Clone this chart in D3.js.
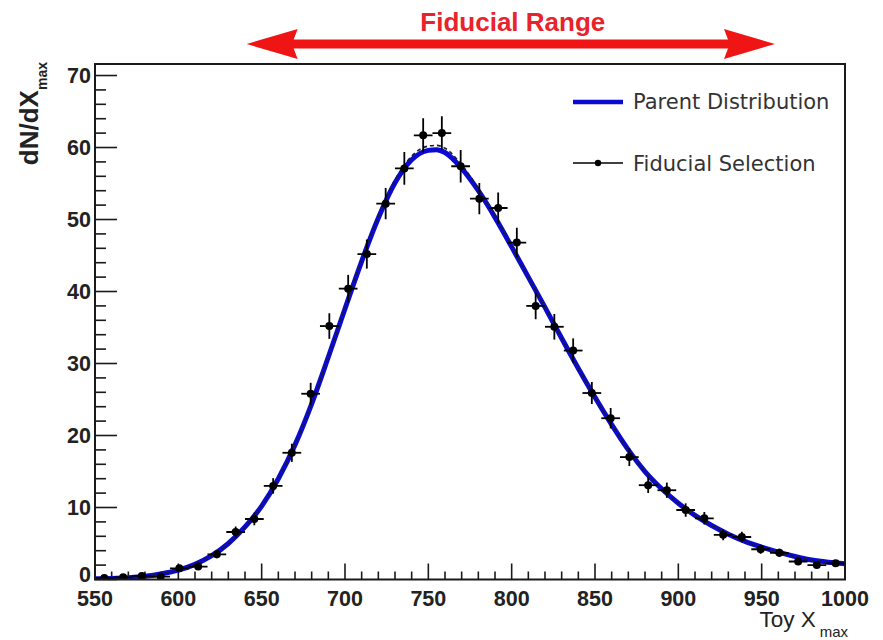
<!DOCTYPE html>
<html><head><meta charset="utf-8">
<script src="https://cdn.jsdelivr.net/npm/d3@7/dist/d3.min.js"></script>
<style>body{margin:0;background:#fff}svg{display:block}</style></head>
<body>
<svg id="chart" width="883" height="640"></svg>
<script>
// ---------- data ----------
const binCenters = [555.6, 566.9, 578.1, 589.4, 600.6, 611.9, 623.1, 634.4, 645.6, 656.9,
  668.1, 679.4, 690.6, 701.9, 713.1, 724.4, 735.6, 746.9, 758.1, 769.4,
  780.6, 791.9, 803.1, 814.4, 825.6, 836.9, 848.1, 859.4, 870.6, 881.9,
  893.1, 904.4, 915.6, 926.9, 938.1, 949.4, 960.6, 971.9, 983.1, 994.4];
const binHalfWidth = 5.625;
const selValues = [0.2, 0.3, 0.5, 0.4, 1.55, 1.8, 3.5, 6.6, 8.4, 13.0,
  17.6, 25.8, 35.2, 40.4, 45.2, 52.2, 57.1, 61.7, 62.0, 57.4,
  52.9, 51.6, 46.8, 38.0, 35.1, 31.8, 25.9, 22.4, 17.0, 13.1,
  12.4, 9.65, 8.5, 6.2, 5.9, 4.2, 3.7, 2.5, 2.0, 2.25];
const selErrors = [0.13, 0.16, 0.21, 0.19, 0.37, 0.40, 0.56, 0.77, 0.87, 1.08,
  1.26, 1.52, 1.78, 1.91, 2.02, 2.17, 2.27, 2.36, 2.36, 2.27,
  2.18, 2.15, 2.05, 1.85, 1.78, 1.69, 1.53, 1.42, 1.24, 1.09,
  1.06, 0.93, 0.87, 0.75, 0.73, 0.61, 0.58, 0.47, 0.42, 0.45];

const curveX = [550, 560, 570, 580, 590, 600, 610, 620, 630, 640, 650, 660, 670, 680, 690,
  700, 710, 720, 730, 740, 750, 755, 760, 770, 780, 790, 800, 810, 820, 830, 840,
  850, 860, 870, 880, 890, 900, 910, 920, 930, 940, 950, 960, 970, 980, 990, 1000];
const parentY = [0.1, 0.15, 0.25, 0.45, 0.8, 1.3, 2.1, 3.3, 5.0, 7.3, 10.2, 14.0, 18.7, 24.4, 30.9,
  37.6, 44.2, 50.2, 55.1, 58.3, 59.6, 59.7, 59.3, 57.1, 54.0, 50.3, 46.2, 42.0, 37.8, 33.5, 29.3,
  25.3, 21.5, 18.0, 15.0, 12.6, 10.6, 8.9, 7.5, 6.3, 5.3, 4.5, 3.8, 3.2, 2.7, 2.4, 2.2];
const fiducialY = [0.1, 0.15, 0.25, 0.45, 0.8, 1.3, 2.1, 3.3, 5.0, 7.3, 10.2, 14.0, 18.7, 24.4, 30.9,
  37.7, 44.4, 50.5, 55.5, 58.8, 60.2, 60.3, 59.9, 57.6, 54.3, 50.5, 46.3, 42.0, 37.8, 33.5, 29.3,
  25.3, 21.5, 18.0, 15.0, 12.6, 10.6, 8.9, 7.5, 6.3, 5.3, 4.5, 3.8, 3.2, 2.7, 2.4, 2.2];

const xTicks = [550, 600, 650, 700, 750, 800, 850, 900, 950, 1000];
const yTicks = [0, 10, 20, 30, 40, 50, 60, 70];
const fiducialRange = [641, 958];
const legendLabels = ["Parent Distribution", "Fiducial Selection"];

// ---------- chart ----------
const svg = d3.select("#chart");
const X0 = 95, X1 = 845, Y0 = 579.5, Y1 = 64;
const x = d3.scaleLinear().domain([550, 1000]).range([X0, X1]);
const y = d3.scaleLinear().domain([0, 71.6]).range([Y0, Y1]);

const red = "#e8232b";
// fiducial range arrow
const ay = 44, headLen = 51, headHalf = 15, shaft = 4.5;
const ax0 = x(fiducialRange[0]), ax1 = x(fiducialRange[1]);
svg.append("path")
  .attr("fill", "#f01515")
  .attr("d", `M${ax0},${ay} L${ax0+headLen},${ay-headHalf} L${ax0+headLen-4},${ay-shaft} L${ax1-headLen+4},${ay-shaft} L${ax1-headLen},${ay-headHalf} L${ax1},${ay} L${ax1-headLen},${ay+headHalf} L${ax1-headLen+4},${ay+shaft} L${ax0+headLen-4},${ay+shaft} L${ax0+headLen},${ay+headHalf} Z`);
svg.append("text")
  .attr("x", (ax0 + ax1) / 2 + 2).attr("y", 31)
  .attr("text-anchor", "middle")
  .attr("font-family", "'Liberation Sans', Arial, sans-serif")
  .attr("font-weight", "bold").attr("font-size", 26)
  .attr("fill", red).text("Fiducial Range");

// ticks (inside frame)
const axisColor = "#1a1a1a";
const g = svg.append("g");
const xMinor = d3.range(550, 1000.1, 10);
xMinor.forEach(v => {
  const major = v % 50 === 0;
  g.append("line").attr("x1", x(v)).attr("x2", x(v))
    .attr("y1", Y0).attr("y2", Y0 - (major ? 16 : 8))
    .attr("stroke", axisColor).attr("stroke-width", 1.6);
});
const yMinor = d3.range(0, 71.6, 2);
yMinor.forEach(v => {
  const major = v % 10 === 0;
  g.append("line").attr("y1", y(v)).attr("y2", y(v))
    .attr("x1", X0).attr("x2", X0 + (major ? 22 : 11))
    .attr("stroke", axisColor).attr("stroke-width", 1.6);
});

// tick labels
const lblFont = "'Liberation Sans', Arial, Helvetica, sans-serif";
g.selectAll(".xl").data(xTicks).join("text")
  .attr("x", d => x(d)).attr("y", 606)
  .attr("text-anchor", "middle").attr("font-family", lblFont)
  .attr("font-weight", "bold")
  .attr("font-size", 21.5).attr("fill", "#222").text(d => d);
g.selectAll(".yl").data(yTicks).join("text")
  .attr("x", X0 - 4).attr("y", d => y(d) + (d === 0 ? 2 : 7))
  .attr("text-anchor", "end").attr("font-family", lblFont)
  .attr("font-weight", "bold")
  .attr("font-size", 21.5).attr("fill", "#222").text(d => d);

// axis titles
const xt = svg.append("text").attr("x", 848).attr("y", 627)
  .attr("text-anchor", "end").attr("font-family", lblFont)
  .attr("font-size", 22.5).attr("fill", "#222");
xt.append("tspan").text("Toy X");
xt.append("tspan").attr("dx", 4).attr("dy", 10).attr("font-size", 15).text("max");

const yt = svg.append("text")
  .attr("transform", "translate(38,62) rotate(-90)")
  .attr("text-anchor", "end").attr("font-family", lblFont)
  .attr("font-weight", "bold").attr("font-size", 26).attr("fill", "#222");
yt.append("tspan").text("dN/dX");
yt.append("tspan").attr("dy", 9).attr("font-size", 14).text("max");

// curves
const clip = svg.append("clipPath").attr("id", "clip").append("rect")
  .attr("x", X0).attr("y", Y1).attr("width", X1 - X0).attr("height", Y0 - Y1);
const line = d3.line().x(d => x(d[0])).y(d => y(d[1])).curve(d3.curveMonotoneX);
const plot = svg.append("g").attr("clip-path", "url(#clip)");
plot.append("path").datum(curveX.map((v, i) => [v, parentY[i]]))
  .attr("d", line).attr("fill", "none").attr("stroke", "#0a0ad2").attr("stroke-width", 5);
plot.append("path").datum(curveX.map((v, i) => [v, fiducialY[i]]))
  .attr("d", line).attr("fill", "none").attr("stroke", "#1a1a3a").attr("stroke-width", 1.6)
  .attr("stroke-dasharray", "4,3");

// data points with error bars
const pts = plot.selectAll(".pt").data(binCenters.map((c, i) => ({c, v: selValues[i], e: selErrors[i]})))
  .join("g");
pts.append("line").attr("x1", d => x(d.c - binHalfWidth)).attr("x2", d => x(d.c + binHalfWidth))
  .attr("y1", d => y(d.v)).attr("y2", d => y(d.v)).attr("stroke", "#000").attr("stroke-width", 1.8);
pts.append("line").attr("x1", d => x(d.c)).attr("x2", d => x(d.c))
  .attr("y1", d => y(d.v - d.e)).attr("y2", d => y(d.v + d.e)).attr("stroke", "#000").attr("stroke-width", 1.8);
pts.append("circle").attr("cx", d => x(d.c)).attr("cy", d => y(d.v)).attr("r", 4).attr("fill", "#000");

// frame
svg.append("rect").attr("x", X0).attr("y", Y1).attr("width", X1 - X0).attr("height", Y0 - Y1)
  .attr("fill", "none").attr("stroke", axisColor).attr("stroke-width", 2);

// legend
const legFont = "'DejaVu Sans', Verdana, sans-serif";
const lg = svg.append("g");
lg.append("line").attr("x1", 573).attr("x2", 623).attr("y1", 102).attr("y2", 102)
  .attr("stroke", "#0a0ad2").attr("stroke-width", 4.5);
lg.append("line").attr("x1", 573).attr("x2", 623).attr("y1", 163).attr("y2", 163)
  .attr("stroke", "#000").attr("stroke-width", 1.6);
lg.append("circle").attr("cx", 598).attr("cy", 163).attr("r", 3.2).attr("fill", "#000");
lg.selectAll(".lt").data(legendLabels).join("text")
  .attr("x", 633).attr("y", (d, i) => 109 + i * 62)
  .attr("font-family", legFont).attr("font-size", 21).attr("fill", "#333").text(d => d);
</script>
</body></html>
